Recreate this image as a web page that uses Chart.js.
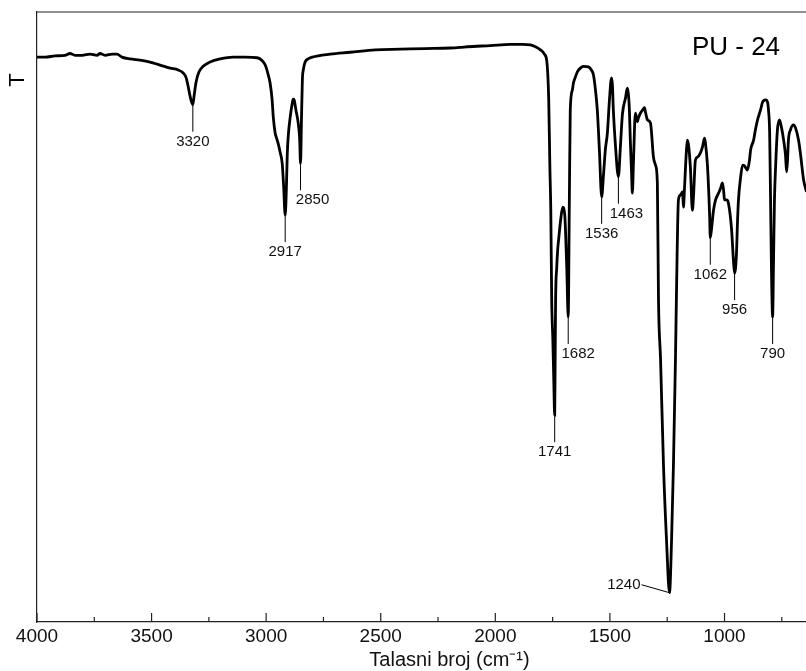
<!DOCTYPE html>
<html>
<head>
<meta charset="utf-8">
<script src="https://cdn.jsdelivr.net/npm/chart.js@4"></script>
<style>
  html, body { margin: 0; background: #fff; overflow: hidden; }
  #box { width: 806px; height: 671px; overflow: hidden; }
</style>
</head>
<body>
<div id="box"><canvas id="myChart" width="862" height="671"></canvas></div>
<script>
// FTIR spektar PU - 24, ocitano sa slike
const talasniBroj = [
  4000, 3965, 3921, 3878, 3856, 3834, 3803, 3769, 3738, 3725, 3703, 3672, 3651, 3629, 3594, 3550, 3507, 3463, 3419, 3384,
  3362, 3349, 3341, 3332, 3320, 3314, 3306, 3293, 3275, 3245, 3201, 3144, 3092, 3039, 3017, 3004, 2991, 2983, 2974, 2969,
  2961, 2956, 2948, 2939, 2930, 2924, 2917, 2912, 2908, 2904, 2895, 2886, 2882, 2878, 2870, 2862, 2858, 2854, 2850, 2846,
  2842, 2838, 2830, 2817, 2799, 2720, 2633, 2524, 2415, 2306, 2196, 2153, 2122, 2022, 1934, 1882, 1847, 1825, 1803, 1786,
  1776, 1771, 1767, 1762, 1758, 1754, 1749, 1745, 1741, 1739, 1737, 1732, 1728, 1724, 1715, 1706, 1697, 1693, 1688, 1682,
  1677, 1673, 1664, 1659, 1651, 1642, 1629, 1616, 1594, 1581, 1572, 1563, 1555, 1546, 1536, 1528, 1520, 1511, 1502, 1493,
  1489, 1485, 1476, 1463, 1455, 1450, 1445, 1432, 1424, 1419, 1415, 1411, 1406, 1402, 1397, 1389, 1380, 1376, 1367, 1358,
  1349, 1345, 1336, 1323, 1310, 1301, 1293, 1288, 1279, 1266, 1253, 1240, 1231, 1223, 1214, 1210, 1201, 1192, 1183, 1179,
  1175, 1166, 1162, 1157, 1149, 1140, 1135, 1127, 1118, 1105, 1096, 1087, 1083, 1074, 1065, 1062, 1057, 1048, 1039, 1026,
  1017, 1009, 1004, 1000, 991, 983, 969, 961, 956, 948, 943, 939, 930, 921, 913, 900, 891, 886, 873, 865,
  856, 843, 834, 821, 812, 808, 803, 799, 795, 790, 786, 782, 777, 769, 760, 751, 742, 734, 729, 725,
  721, 712, 699, 690, 677, 668, 655, 642
]

const transmitancija = [
  92.6, 92.6, 92.8, 92.9, 93.2, 92.9, 92.9, 93.1, 92.9, 93.2, 92.9, 93.1, 93.1, 92.6, 92.3, 92.1, 91.8, 91.3, 90.8, 90.5,
  90.0, 89.2, 87.9, 86.2, 84.8, 86.4, 88.5, 90.2, 91.1, 91.8, 92.3, 92.6, 92.6, 92.5, 92.0, 91.3, 89.7, 88.4, 85.6, 82.8,
  80.2, 79.5, 78.5, 77.0, 75.2, 71.6, 66.7, 70.8, 76.6, 79.5, 82.8, 85.1, 85.7, 85.6, 83.9, 82.3, 81.1, 79.3, 75.2, 82.3,
  88.9, 90.5, 91.8, 92.3, 92.6, 93.1, 93.4, 93.8, 93.9, 94.0, 94.1, 94.2, 94.3, 94.5, 94.7, 94.7, 94.6, 94.3, 93.8, 93.1,
  92.1, 89.7, 85.6, 74.6, 67.5, 52.8, 46.2, 39.7, 33.9, 43.0, 52.8, 58.2, 61.0, 62.6, 65.9, 68.0, 66.7, 63.4, 57.7, 50.0,
  69.2, 83.9, 87.2, 88.4, 89.3, 90.2, 90.8, 91.1, 91.0, 90.5, 89.7, 87.2, 83.9, 77.4, 69.7, 73.3, 77.4, 80.2, 85.6, 89.2,
  88.0, 83.9, 78.2, 73.0, 77.4, 80.7, 83.4, 85.9, 87.5, 86.4, 83.9, 79.0, 74.1, 70.3, 75.7, 83.4, 82.0, 82.6, 83.4, 83.9,
  84.3, 83.6, 82.3, 81.8, 76.2, 74.9, 72.0, 52.8, 43.0, 25.4, 13.4, 4.8, 13.4, 25.4, 43.0, 52.8, 69.2, 70.0, 70.5, 68.0,
  70.8, 77.4, 79.0, 78.2, 74.6, 67.5, 70.0, 75.7, 76.2, 76.9, 77.9, 79.3, 78.5, 74.6, 66.7, 63.0, 64.3, 67.5, 69.2, 70.3,
  71.1, 72.0, 70.8, 69.2, 69.2, 68.7, 64.3, 59.3, 57.2, 60.2, 65.9, 69.2, 72.8, 74.9, 74.8, 74.1, 75.7, 77.4, 79.0, 80.7,
  82.3, 83.9, 85.2, 85.6, 85.2, 83.9, 80.2, 69.2, 57.7, 50.0, 59.3, 69.2, 74.6, 80.7, 82.3, 81.0, 79.0, 76.6, 73.8, 75.7,
  79.0, 80.7, 81.5, 81.0, 79.0, 76.6, 72.5, 70.5
]

const pikovi = [3320, 2917, 2850, 1741, 1682, 1536, 1463, 1240, 1062, 956, 790]
const glavneOznake = [4000, 3500, 3000, 2500, 2000, 1500, 1000, 500]
const sporedneOznake = [3750, 3250, 2750, 2250, 1750, 1250, 750]

// pomak teksta oznake udesno (px)
const pomakTeksta = { 2850: 12, 1682: 10, 1463: 8 }

const tacke = talasniBroj.map((v, i) => ({ x: v, y: transmitancija[i] }))

function linija(ctx, x1, y1, x2, y2) {
  ctx.beginPath()
  ctx.moveTo(x1, y1)
  ctx.lineTo(x2, y2)
  ctx.stroke()
}

const dodaci = {
  id: 'dodaci',
  afterDatasetsDraw(chart) {
    const { ctx, chartArea, scales: { x, y } } = chart
    ctx.save()
    ctx.strokeStyle = '#222'
    ctx.lineWidth = 1.2
    linija(ctx, chartArea.left, chartArea.top, chartArea.right, chartArea.top)

    // crtice na x osi, prema unutra
    glavneOznake.forEach(v => {
      const px = x.getPixelForValue(v)
      linija(ctx, px, chartArea.bottom, px, chartArea.bottom - 9)
    })
    sporedneOznake.forEach(v => {
      const px = x.getPixelForValue(v)
      linija(ctx, px, chartArea.bottom, px, chartArea.bottom - 5)
    })

    // oznake pikova
    ctx.strokeStyle = '#000'
    ctx.lineWidth = 1
    ctx.fillStyle = '#111'
    ctx.font = '15px "Liberation Sans", Arial, sans-serif'
    ctx.textBaseline = 'middle'
    pikovi.forEach(p => {
      const i = talasniBroj.indexOf(p)
      const px = x.getPixelForValue(p)
      const py = y.getPixelForValue(transmitancija[i])
      if (p === 1240) {
        linija(ctx, px, py, px - 28, py - 8)
        ctx.textAlign = 'right'
        ctx.fillText(String(p), px - 29, py - 8)
      } else {
        linija(ctx, px, py, px, py + 27)
        ctx.textAlign = 'center'
        ctx.fillText(String(p), px + (pomakTeksta[p] || 0), py + 37)
      }
    })

    ctx.fillStyle = '#000'
    ctx.font = '26px "Liberation Sans", Arial, sans-serif'
    ctx.textAlign = 'center'
    ctx.fillText('PU - 24', 736, 48)

    ctx.font = '22px "Liberation Sans", Arial, sans-serif'
    ctx.translate(18, 80)
    ctx.rotate(-Math.PI / 2)
    ctx.fillText('T', 0, 0)
    ctx.restore()
  }
}

const ctx = document.getElementById('myChart')

const config = {
  type: 'line',
  data: {
    datasets: [{
      data: tacke,
      borderColor: '#000',
      borderWidth: 2.8,
      pointRadius: 0,
      cubicInterpolationMode: 'monotone',
      fill: false
    }]
  },
  options: {
    responsive: false,
    animation: false,
    layout: { padding: { top: 12, right: 0, left: 0, bottom: 0 } },
    plugins: {
      legend: { display: false },
      tooltip: { enabled: false }
    },
    scales: {
      x: {
        type: 'linear',
        reverse: true,
        min: 400,
        max: 4000,
        afterBuildTicks: axis => { axis.ticks = glavneOznake.map(v => ({ value: v })) },
        afterFit: scale => { scale.height = 49 },
        ticks: {
          maxRotation: 0,
          autoSkip: false,
          padding: 3,
          color: '#111',
          font: { family: '"Liberation Sans", Arial, sans-serif', size: 19 },
          callback: v => String(v)
        },
        grid: { drawOnChartArea: false, drawTicks: false },
        border: { display: true, color: '#222', width: 1.2 },
        title: {
          display: true,
          text: 'Talasni broj (cm⁻¹)',
          color: '#111',
          font: { family: '"Liberation Sans", Arial, sans-serif', size: 20 },
          padding: { top: 0, bottom: -1 }
        }
      },
      y: {
        min: 0,
        max: 100,
        afterFit: scale => { scale.width = 37 },
        ticks: { display: false },
        grid: { drawOnChartArea: false, drawTicks: false },
        border: { display: true, color: '#222', width: 1.2 }
      }
    }
  },
  plugins: [dodaci]
}

const myChart = new Chart(ctx, config)
</script>
</body>
</html>
